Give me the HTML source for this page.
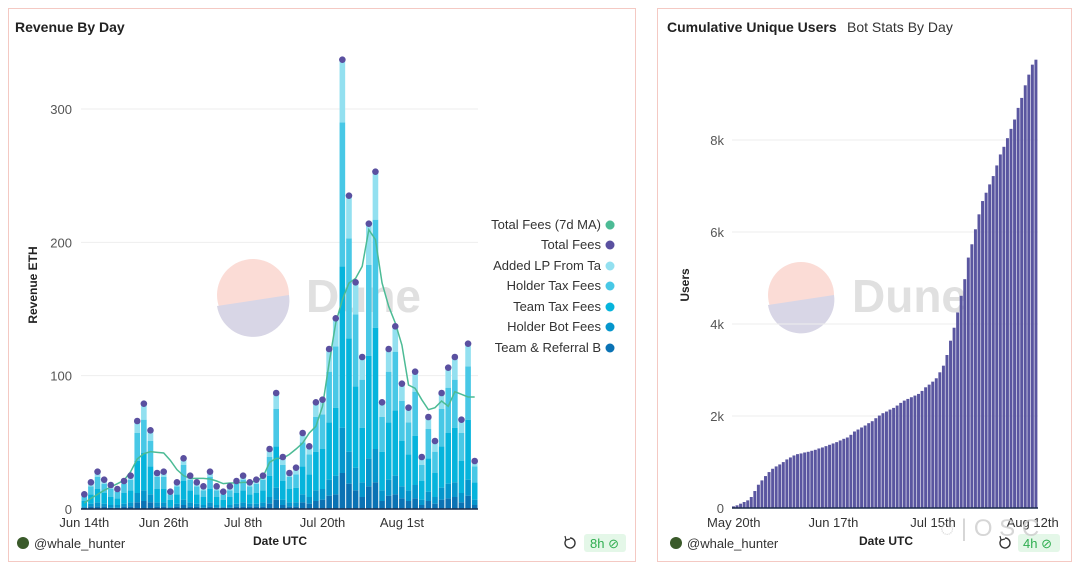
<!DOCTYPE html>
<html><head><meta charset="utf-8"><style>
body{margin:0;background:#fff;font-family:"Liberation Sans",sans-serif;}
svg text{font-family:"Liberation Sans",sans-serif;}
</style></head><body>
<svg id="s" width="1080" height="570" viewBox="0 0 1080 570" xmlns="http://www.w3.org/2000/svg">
<rect x="8.5" y="8.5" width="627" height="553" fill="#fff" stroke="#f4c9c3"/>
<rect x="657.5" y="8.5" width="414" height="553" fill="#fff" stroke="#f4c9c3"/>
<text x="15" y="32" font-size="14" font-weight="bold" fill="#222">Revenue By Day</text>
<text x="667" y="32" font-size="14" font-weight="bold" fill="#222">Cumulative Unique Users</text>
<text x="847" y="32" font-size="14" fill="#333">Bot Stats By Day</text>
<g>
<circle cx="253" cy="295" r="36" fill="#fbdcd6"/>
<path d="M217,306 A36,36 0 0 0 289,295 Z" fill="#d8d6e6"/>
<text x="306" y="312" font-size="46" font-weight="bold" fill="#e0e0e0">Dune</text></g>
<g>
<circle cx="801" cy="295" r="33" fill="#fbdcd6"/>
<path d="M768,305 A33,33 0 0 0 834,295 Z" fill="#d8d6e6"/>
<text x="852" y="312" font-size="46" font-weight="bold" fill="#e0e0e0">Dune</text></g>
<g id="left"></g><g id="right"></g>
<text transform="translate(37,285) rotate(-90)" text-anchor="middle" font-size="12" font-weight="bold" fill="#222">Revenue ETH</text>
<text x="280" y="545" text-anchor="middle" font-size="12" font-weight="bold" fill="#222">Date UTC</text>
<text transform="translate(689,285) rotate(-90)" text-anchor="middle" font-size="12" font-weight="bold" fill="#222">Users</text>
<text x="886" y="545" text-anchor="middle" font-size="12" font-weight="bold" fill="#222">Date UTC</text>
<g font-size="13" fill="#333" text-anchor="end">
<g><text x="601" y="229">Total Fees (7d MA)</text><circle cx="610" cy="225" r="4.5" fill="#4cbb95"/></g>
<g><text x="601" y="249">Total Fees</text><circle cx="610" cy="245" r="4.5" fill="#5a50a0"/></g>
<g><text x="601" y="270">Added LP From Ta</text><circle cx="610" cy="266" r="4.5" fill="#93e0f0"/></g>
<g><text x="601" y="290">Holder Tax Fees</text><circle cx="610" cy="286" r="4.5" fill="#48c8e6"/></g>
<g><text x="601" y="311">Team Tax Fees</text><circle cx="610" cy="307" r="4.5" fill="#06b4dc"/></g>
<g><text x="601" y="331">Holder Bot Fees</text><circle cx="610" cy="327" r="4.5" fill="#0596cc"/></g>
<g><text x="601" y="352">Team &amp; Referral B</text><circle cx="610" cy="348" r="4.5" fill="#0a72b4"/></g>
</g>
<rect x="602" y="212" width="6" height="22" fill="#fff"/>
<circle cx="610" cy="225" r="4.5" fill="#4cbb95"/>
<g><circle cx="23" cy="543" r="6" fill="#3a5a2a"/><text x="34" y="548" font-size="13" fill="#333">@whale_hunter</text></g>
<g><circle cx="676" cy="543" r="6" fill="#3a5a2a"/><text x="687" y="548" font-size="13" fill="#333">@whale_hunter</text></g>
<g><path d="M566,540 a5,5 0 1 0 4,-2" fill="none" stroke="#333" stroke-width="1.4"/><path d="M565,536 l1,4 4,-1" fill="none" stroke="#333" stroke-width="1.2"/></g>
<g><rect x="584" y="534" width="42" height="18" rx="3" fill="#e4f7e8"/><text x="590" y="548" font-size="13" fill="#2fae50">8h ⊘</text></g>
<g><path d="M1001,540 a5,5 0 1 0 4,-2" fill="none" stroke="#333" stroke-width="1.4"/><path d="M1000,536 l1,4 4,-1" fill="none" stroke="#333" stroke-width="1.2"/></g>
<g><rect x="1018" y="534" width="42" height="18" rx="3" fill="#e4f7e8"/><text x="1023" y="548" font-size="13" fill="#2fae50">4h ⊘</text></g>
<text x="940" y="536" font-size="24" fill="#ccc" opacity="0.8">◌ | O S C</text>
</svg>
<script>
const revTotal=[11,20,28,22,18,15,21,25,66,79,59,27,28,13,20,38,25,20,17,28,17,13,17,21,25,20,22,25,45,87,39,27,31,57,47,80,82,120,143,337,235,170,114,214,253,80,120,137,94,76,103,39,69,51,87,106,114,67,124,36];
const teamReferral=[1,2,2,2,1,1,2,2,5,6,5,2,2,1,2,3,2,2,1,2,1,1,1,2,2,2,2,2,4,7,3,2,2,5,4,6,7,10,11,27,19,14,9,17,20,6,10,11,8,6,8,3,6,4,7,8,9,5,10,3];
const holderBot=[1,2,3,2,2,2,2,3,7,8,6,3,3,1,2,4,3,2,2,3,2,1,2,2,3,2,2,3,5,9,4,3,3,6,5,8,8,12,14,34,24,17,11,21,25,8,12,14,9,8,10,4,7,5,9,11,11,7,12,4];
const teamTax=[4,7,10,8,6,5,8,9,24,28,21,10,10,5,7,14,9,7,6,10,6,5,6,8,9,7,8,9,16,31,14,10,11,21,17,29,30,43,51,121,85,61,41,77,91,29,43,49,34,27,37,14,25,18,31,38,41,24,45,13];
const holderTax=[4,6,9,7,6,5,7,8,21,25,19,9,9,4,6,12,8,6,5,9,5,4,5,7,8,6,7,8,14,28,12,9,10,18,15,26,26,38,46,108,75,54,36,68,81,26,38,44,30,24,33,12,22,16,28,34,36,21,40,12];
const addedLP=[1,3,4,3,3,2,2,3,9,12,8,3,4,2,3,5,3,3,3,4,3,2,3,2,3,3,3,3,6,12,6,3,5,7,6,11,11,17,21,47,32,24,17,31,36,11,17,19,13,11,15,6,9,8,12,15,17,10,17,4];
const ma7=[4.5,8,11,14,16.5,19,21.5,28,37.5,41.5,43,42.5,42,36.5,29.5,25,23,23,23,22.5,21,19,19.5,19.5,20,20,21,24,35,38,38,41,45,49.5,57,62,77,109.5,139.5,157,169.5,173,182,209.5,202,169.5,152,139.5,123,93,90.5,82,74.5,76,81,77,88,86,84,84];
const revTicks=[0,100,200,300];
const revDateLabels=["Jun 14th","Jun 26th","Jul 8th","Jul 20th","Aug 1st"];
const revDateIdx=[0,12,24,36,48];
const users=[36,58,94,130,166,239,369,506,600,694,781,853,904,947,998,1056,1099,1142,1171,1186,1207,1222,1244,1265,1294,1316,1345,1374,1403,1432,1468,1504,1533,1591,1663,1706,1750,1793,1844,1887,1952,2010,2061,2097,2140,2176,2227,2285,2335,2371,2408,2444,2480,2545,2624,2682,2747,2820,2950,3094,3326,3637,3919,4251,4613,4974,5444,5733,6059,6384,6673,6854,7035,7216,7447,7686,7852,8040,8242,8445,8698,8915,9189,9421,9638,9746];
const userTicks=[0,2000,4000,6000,8000];
const userTickLabels=["0","2k","4k","6k","8k"];
const userDateLabels=["May 20th","Jun 17th","Jul 15th","Aug 12th"];
const userDateIdx=[0,28,56,84];

const NS="http://www.w3.org/2000/svg";
function mk(p,tag,at){const e=document.createElementNS(NS,tag);for(const k in at)e.setAttribute(k,at[k]);p.appendChild(e);return e;}
// Left chart
const L=document.getElementById('left');
const lx0=81,lx1=478,ly0=509,lyPer=400/300;
const lbw=(lx1-lx0)/revTotal.length;
const xL=i=>lx0+i*lbw, yL=v=>ly0-v*lyPer;
revTicks.forEach(t=>{
 const g=mk(L,'line',{x1:lx0,x2:lx1,y1:yL(t),y2:yL(t),stroke:'#eee'});
 
 
 const tx=mk(L,'text',{x:72,y:yL(t)+5,'text-anchor':'end','font-size':13,fill:'#555'});tx.textContent=t;
 
 
});
const series=[teamReferral,holderBot,teamTax,holderTax,addedLP];
const cols=['#0a72b4','#0596cc','#06b4dc','#48c8e6','#93e0f0'];
const snames=['bar-team-referral','bar-holder-bot','bar-team-tax','bar-holder-tax','bar-added-lp'];
revTotal.forEach((_,i)=>{
 let acc=0;
 series.forEach((s,k)=>{
  const r=mk(L,'rect',{x:xL(i)+0.5,y:yL(acc+s[i]),width:lbw-1,height:s[i]*lyPer,fill:cols[k]});
  
  
  acc+=s[i];
 });
});
const pts=ma7.map((v,i)=>(xL(i)+lbw/2)+','+yL(v)).join(' ');
const pl=mk(L,'polyline',{points:pts,fill:'none',stroke:'#4cbb95','stroke-width':1.5});


revTotal.forEach((v,i)=>{
 const c=mk(L,'circle',{cx:xL(i)+lbw/2,cy:yL(v),r:3.3,fill:'#5a50a0'});
 
 
});
const ax=mk(L,'line',{x1:lx0,x2:lx1,y1:ly0,y2:ly0,stroke:'#1a2a4a','stroke-width':1.5});


revDateLabels.forEach((d,k)=>{
 const t=mk(L,'text',{x:xL(revDateIdx[k])+lbw/2,y:527,'text-anchor':'middle','font-size':13,fill:'#333'});t.textContent=d;
 
 
});
// Right chart
const R=document.getElementById('right');
const rx0=732,rx1=1038,ry0=508,ryPer=368/8000;
const rbw=(rx1-rx0)/users.length;
const xR=i=>rx0+i*rbw, yR=v=>ry0-v*ryPer;
userTicks.forEach((t,k)=>{
 const g=mk(R,'line',{x1:rx0,x2:rx1,y1:yR(t),y2:yR(t),stroke:'#eee'});
 
 
 const tx=mk(R,'text',{x:724,y:yR(t)+5,'text-anchor':'end','font-size':13,fill:'#555'});tx.textContent=userTickLabels[k];
 
 
});
users.forEach((v,i)=>{
 const r=mk(R,'rect',{x:xR(i),y:yR(v),width:rbw-0.6,height:v*ryPer,fill:'#5a56a0'});
 
 
});
const ax2=mk(R,'line',{x1:rx0,x2:rx1,y1:ry0,y2:ry0,stroke:'#1a2a4a','stroke-width':1.5});


userDateLabels.forEach((d,k)=>{
 const t=mk(R,'text',{x:xR(userDateIdx[k])+rbw/2,y:527,'text-anchor':'middle','font-size':13,fill:'#333'});t.textContent=d;
 
 
});
</script>
</body></html>
